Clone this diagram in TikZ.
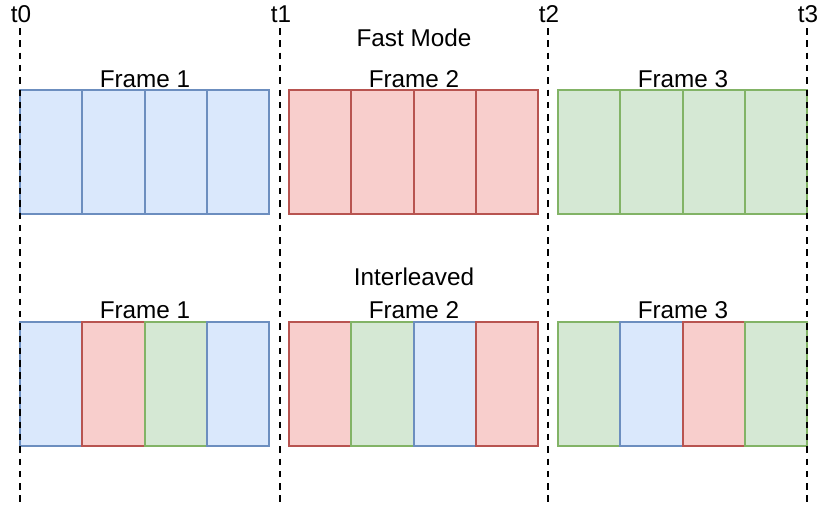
\documentclass[tikz,border=0pt]{standalone}
\usepackage{fontspec}
\setmainfont{Liberation Sans}
\definecolor{bfill}{HTML}{DAE8FC}\definecolor{bline}{HTML}{6C8EBF}
\definecolor{rfill}{HTML}{F8CECC}\definecolor{rline}{HTML}{B85450}
\definecolor{gfill}{HTML}{D5E8D4}\definecolor{gline}{HTML}{82B366}
\tikzset{
  cell/.style={draw, line width=2pt, inner sep=0pt, outer sep=0pt, minimum width=62.25pt, minimum height=124pt, anchor=north west},
  cB/.style={cell, fill=bfill, draw=bline},
  cR/.style={cell, fill=rfill, draw=rline},
  cG/.style={cell, fill=gfill, draw=gline},
  lbl/.style={inner sep=0pt, anchor=base, font=\fontsize{24.3}{29}\selectfont},
  tline/.style={draw=black, line width=2pt, dash pattern=on 6.5pt off 5.8pt},
}
\begin{document}
\begin{tikzpicture}[x=1pt,y=-1pt]
\useasboundingbox (0,0) rectangle (817,506);
% top row (Fast Mode)
\foreach \i in {0,...,3}{
  \node[cB] (fa\i) at ({20+62.25*\i},90) {};
  \node[cR] (fb\i) at ({289+62.25*\i},90) {};
  \node[cG] (fc\i) at ({558+62.25*\i},90) {};
}
% bottom row (Interleaved)
\node[cB] (ia0) at (20,322) {};
\node[cR] (ia1) at (82.25,322) {};
\node[cG] (ia2) at (144.5,322) {};
\node[cB] (ia3) at (206.75,322) {};
\node[cR] (ib0) at (289,322) {};
\node[cG] (ib1) at (351.25,322) {};
\node[cB] (ib2) at (413.5,322) {};
\node[cR] (ib3) at (475.75,322) {};
\node[cG] (ic0) at (558,322) {};
\node[cB] (ic1) at (620.25,322) {};
\node[cR] (ic2) at (682.5,322) {};
\node[cG] (ic3) at (744.75,322) {};
% labels
\node[lbl] (fast) at (414,46) {Fast Mode};
\node[lbl] (f1) at (145,87) {Frame 1};
\node[lbl] (f2) at (414,87) {Frame 2};
\node[lbl] (f3) at (683,87) {Frame 3};
\node[lbl] (inter) at (414,285) {Interleaved};
\node[lbl] (g1) at (145,318) {Frame 1};
\node[lbl] (g2) at (414,318) {Frame 2};
\node[lbl] (g3) at (683,318) {Frame 3};
% time markers
\foreach \n/\x in {0/20,1/280,2/548,3/807}{
  \node[lbl] (tl\n) at (\x+1,23) {t\n};
  \coordinate (tt\n) at (\x,28);
  \coordinate (tb\n) at (\x,506);
  \draw[tline] (tt\n) -- (tb\n);
}
\end{tikzpicture}
\end{document}
